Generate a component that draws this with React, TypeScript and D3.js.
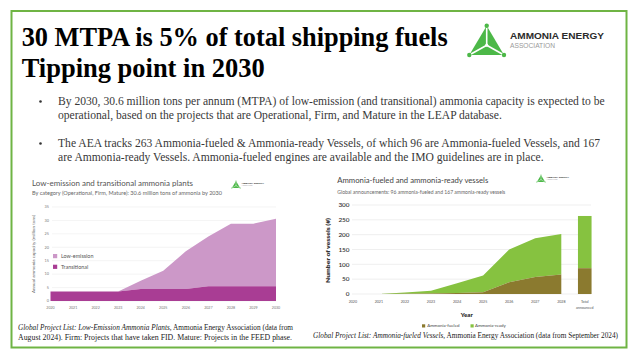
import React from "react";
import * as d3 from "d3";

// left chart: low-emission ammonia plants (million tons)
const plantYears = [2020, 2021, 2022, 2023, 2024, 2025, 2026, 2027, 2028, 2029, 2030];
const transitional = [3.5, 3.5, 3.5, 3.5, 4.5, 4.5, 4.5, 5.5, 5.5, 5.5, 5.5];
const lowEmission = [0, 0, 0, 0, 3, 6.8, 14, 18.5, 23.3, 23.3, 25.1];
const plantTicks = [0, 5, 10, 15, 20, 25, 30, 35];

// right chart: vessels
const vesselYears = ["2020", "2021", "2022", "2023", "2024", "2025", "2026", "2027", "2028"];
const fueled = [0, 0, 1, 2, 3, 6, 40, 57, 66];
const ready = [0, 0, 4, 9, 33, 56, 110, 131, 136];
const totalFueled = 87;
const totalReady = 176;
const vesselTicks = [0, 50, 100, 150, 200, 250, 300];

const bullets = [
  [
    "By 2030, 30.6 million tons per annum (MTPA) of low-emission (and transitional) ammonia capacity is expected to be",
    "operational, based on the projects that are Operational, Firm, and Mature in the LEAP database.",
  ],
  [
    "The AEA tracks 263 Ammonia-fueled & Ammonia-ready Vessels, of which 96 are Ammonia-fueled Vessels, and 167",
    "are Ammonia-ready Vessels. Ammonia-fueled engines are available and the IMO guidelines are in place.",
  ],
];

const GREEN = "#6fb444";
const SERIF = "'Liberation Serif', serif";
const SANS = "Lato, 'Noto Sans', sans-serif";

function Logo({ x, y, s }: { x: number; y: number; s: number }) {
  // triangle mark, apex at (x, y)
  const bl = [x - 17.4 * s, y + 29.3 * s];
  const br = [x + 17.3 * s, y + 29.3 * s];
  const c = [x, y + 19.5 * s];
  const tx = x + 23.3 * s;
  return (
    <g>
      <polygon points={`${x},${y} ${bl[0]},${bl[1]} ${br[0]},${br[1]}`} fill="#4cb848" />
      {[[x, y], bl, br].map((p, i) => (
        <g key={i}>
          <line x1={c[0]} y1={c[1]} x2={p[0]} y2={p[1]} stroke="#fff" strokeWidth={1.6 * s} />
          <circle cx={p[0]} cy={p[1]} r={2.2 * s} fill="#4cb848" />
        </g>
      ))}
      <circle cx={c[0]} cy={c[1]} r={1.6 * s} fill="#fff" />
      <text x={tx} y={y + 13.6 * s} fontFamily="'Liberation Sans', sans-serif" fontWeight="bold" fontSize={9.2 * s} fill="#2b2b2b"
        textLength={94 * s} lengthAdjust="spacingAndGlyphs">
        AMMONIA ENERGY
      </text>
      <text x={tx} y={y + 22 * s} fontFamily="'Liberation Sans', sans-serif" fontSize={6.3 * s} fill="#9a9a9a"
        textLength={45 * s} lengthAdjust="spacingAndGlyphs">
        ASSOCIATION
      </text>
    </g>
  );
}

function PlantsChart() {
  const x = d3.scaleLinear().domain([2020, 2030]).range([50.5, 276]);
  const y = d3.scaleLinear().domain([0, 35]).range([301, 207]);
  const totals = transitional.map((t, i) => t + lowEmission[i]);
  const areaT = d3.area<number>()
    .x((_, i) => x(plantYears[i]))
    .y0(y(0))
    .y1((d) => y(d));
  const areaL = d3.area<number>()
    .x((_, i) => x(plantYears[i]))
    .y0((_, i) => y(transitional[i]))
    .y1((d) => y(d));
  return (
    <g fontFamily={SANS}>
      <text x={32} y={185.5} fontSize={7.6} fill="#555" textLength={161} lengthAdjust="spacingAndGlyphs">
        Low-emission and transitional ammonia plants
      </text>
      <text x={32} y={195} fontSize={4.9} fill="#666" textLength={190} lengthAdjust="spacingAndGlyphs">
        By category (Operational, Firm, Mature): 30.6 million tons of ammonia by 2030
      </text>
      <Logo x={236} y={181} s={0.24} />
      {plantTicks.map((t) => (
        <g key={t}>
          <line x1={52} x2={276} y1={y(t)} y2={y(t)} stroke="#ececec" strokeWidth={0.6} />
          <text x={49} y={y(t) + 1.3} fontSize={3.8} fill="#777" textAnchor="end">{t}</text>
        </g>
      ))}
      <path d={areaL(totals) || ""} fill="#cc98c8" />
      <path d={areaT(transitional) || ""} fill="#a93d94" />
      {plantYears.map((yr) => (
        <text key={yr} x={x(yr)} y={309} fontSize={3.6} fill="#777" textAnchor="middle">{yr}</text>
      ))}
      <text transform={`translate(34.5,254) rotate(-90)`} fontSize={4.6} fill="#666" textAnchor="middle">
        Annual ammonia capacity (million tons)
      </text>
      <rect x={53} y={254} width={4.2} height={4.2} fill="#cc98c8" />
      <text x={61} y={258} fontSize={5.4} fill="#555">Low-emission</text>
      <rect x={53} y={264.7} width={4.2} height={4.2} fill="#a93d94" />
      <text x={61} y={268.7} fontSize={5.4} fill="#555">Transitional</text>
    </g>
  );
}

function VesselsChart() {
  const x = d3.scalePoint<string>().domain(vesselYears).range([352.8, 561.3]);
  const totalX = (x("2028") || 0) + x.step() * 0.9;
  const y = d3.scaleLinear().domain([0, 300]).range([294, 205]);
  const totals = fueled.map((f, i) => f + ready[i]);
  const areaF = d3.area<number>()
    .x((_, i) => x(vesselYears[i]) || 0)
    .y0(y(0))
    .y1((d) => y(d));
  const areaR = d3.area<number>()
    .x((_, i) => x(vesselYears[i]) || 0)
    .y0((_, i) => y(fueled[i]))
    .y1((d) => y(d));
  const barW = 13.6;
  return (
    <g fontFamily={SANS}>
      <text x={337.3} y={183.3} fontSize={7.6} fill="#444" textLength={151} lengthAdjust="spacingAndGlyphs">
        Ammonia-fueled and ammonia-ready vessels
      </text>
      <text x={337.3} y={194} fontSize={4.8} fill="#666" textLength={168} lengthAdjust="spacingAndGlyphs">
        Global announcements: 96 ammonia-fueled and 167 ammonia-ready vessels
      </text>
      <Logo x={541} y={175} s={0.24} />
      {vesselTicks.map((t) => (
        <g key={t}>
          <line x1={352} x2={591} y1={y(t)} y2={y(t)} stroke="#e4e4e4" strokeWidth={0.6} />
          <text x={349.5} y={y(t) + 2.3} fontSize={6.4} fontWeight={600} fill="#333" textAnchor="end">{t}</text>
        </g>
      ))}
      <path d={areaR(totals) || ""} fill="#86c240" />
      <path d={areaF(fueled) || ""} fill="#8b7a2f" />
      <rect x={totalX - barW / 2} y={y(totalFueled + totalReady)} width={barW}
        height={y(totalFueled) - y(totalFueled + totalReady)} fill="#86c240" />
      <rect x={totalX - barW / 2} y={y(totalFueled)} width={barW}
        height={y(0) - y(totalFueled)} fill="#8b7a2f" />
      {vesselYears.map((yr) => (
        <text key={yr} x={x(yr) || 0} y={303.3} fontSize={3.6} fill="#555" textAnchor="middle">{yr}</text>
      ))}
      <text x={totalX} y={303.3} fontSize={3.6} fill="#555" textAnchor="middle">Total</text>
      <text x={totalX} y={308.6} fontSize={3.6} fill="#555" textAnchor="middle">announced</text>
      <text x={466.7} y={316.7} fontSize={6} fontWeight={800} fill="#333" textAnchor="middle">Year</text>
      <text transform={`translate(330,250.5) rotate(-90)`} fontSize={6} fontWeight={800} fill="#333"
        textAnchor="middle" textLength={65} lengthAdjust="spacingAndGlyphs">
        Number of vessels (#)
      </text>
      <rect x={422} y={324.3} width={3.2} height={3.2} fill="#8b7a2f" />
      <text x={427.3} y={327.3} fontSize={4.4} fill="#444">Ammonia-fueled</text>
      <rect x={470.5} y={324.3} width={3.2} height={3.2} fill="#86c240" />
      <text x={475} y={327.3} fontSize={4.4} fill="#444">Ammonia-ready</text>
    </g>
  );
}

export default function App() {
  return (
    <svg width={640} height={360} style={{ position: "fixed", left: 0, top: 0, background: "#fff" }}>
      <rect x={0} y={0} width={640} height={360} fill="#fff" />
      <rect x={11.5} y={11} width={615} height={336.5} fill="none" stroke={GREEN} strokeWidth={2} />
      <g fontFamily={SERIF} fontWeight={700} fill="#000">
        <text x={21.7} y={46} fontSize={26.5} textLength={426} lengthAdjust="spacingAndGlyphs">
          30 MTPA is 5% of total shipping fuels
        </text>
        <text x={21.7} y={77} fontSize={26.5} textLength={243} lengthAdjust="spacingAndGlyphs">
          Tipping point in 2030
        </text>
      </g>
      <Logo x={486.7} y={25.7} s={1} />
      <g fontFamily={SERIF} fontSize={11.6} fill="#383838">
        {bullets.map((b, i) => (
          <g key={i}>
            <circle cx={40.5} cy={(i === 0 ? 105 : 147) - 3.5} r={1.3} fill="#333" />
            {b.map((line, j) => (
              <text key={j} x={58} y={(i === 0 ? 105 : 147) + j * 14}>{line}</text>
            ))}
          </g>
        ))}
      </g>
      <PlantsChart />
      <VesselsChart />
      <g fontFamily={SERIF} fontSize={7.4} fill="#222">
        <text x={18} y={330} textLength={275} lengthAdjust="spacingAndGlyphs">
          <tspan fontStyle="italic">Global Project List: Low-Emission Ammonia Plants,</tspan> Ammonia Energy Association (data from
        </text>
        <text x={18} y={339.5} textLength={274} lengthAdjust="spacingAndGlyphs">
          August 2024). Firm: Projects that have taken FID. Mature: Projects in the FEED phase.
        </text>
        <text x={313} y={337.7} textLength={305} lengthAdjust="spacingAndGlyphs">
          <tspan fontStyle="italic">Global Project List: Ammonia-fueled Vessels,</tspan> Ammonia Energy Association (data from September 2024)
        </text>
      </g>
    </svg>
  );
}
